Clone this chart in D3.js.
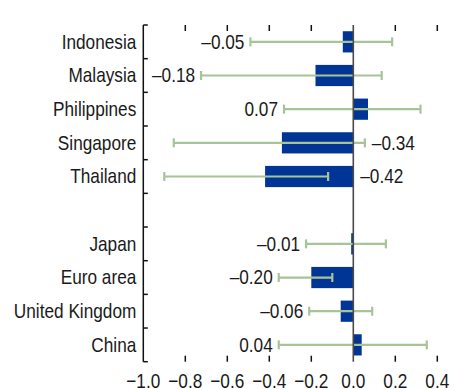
<!DOCTYPE html>
<html><head><meta charset="utf-8">
<script src="https://cdn.jsdelivr.net/npm/d3@7"></script>
<style>
html,body{margin:0;padding:0;background:#fff;}
text{font-family:"Liberation Sans",Arial,sans-serif;fill:#1a1a1a;}
</style></head>
<body><svg id="c" width="455" height="389"></svg>
<script>
const categories = ["Indonesia","Malaysia","Philippines","Singapore","Thailand","","Japan","Euro area","United Kingdom","China"];
const values     = [-0.05, -0.18, 0.07, -0.34, -0.42, null, -0.01, -0.20, -0.06, 0.04];
const errLow     = [-0.49, -0.725, -0.33, -0.855, -0.90, null, -0.225, -0.355, -0.21, -0.355];
const errHigh    = [0.185, 0.135, 0.32, 0.055, -0.12, null, 0.155, -0.10, 0.09, 0.35];
const labelSide  = ["left","left","left","right","right",null,"left","left","left","left"];
const valueLabels= ["\u20130.05","\u20130.18","0.07","\u20130.34","\u20130.42","","\u20130.01","\u20130.20","\u20130.06","0.04"];
const xTicks     = [-1.0,-0.8,-0.6,-0.4,-0.2,0.0,0.2,0.4];

const svg = d3.select("#c");
const fs = 21, sx = 0.82;
const keys = categories.map((c,i)=> c===""? "__gap"+i : c);
const x = d3.scaleLinear().domain([-1.0,0.4]).range([143.3,437.3]);
const y = d3.scaleBand().domain(keys).range([25,361.7]).paddingInner(0.37).paddingOuter(0.185);

const rows = keys.map((k,i)=>({k, name:categories[i], v:values[i], lo:errLow[i], hi:errHigh[i], side:labelSide[i], lab:valueLabels[i]}));
const data = rows.filter(d=>d.v!==null);
const cy = d => y(d.k)+y.bandwidth()/2;
const place = (fx, fy) => d => `translate(${fx(d)},${fy(d)}) scale(${sx},1)`;

// bars
svg.append("g").selectAll("rect").data(data).join("rect")
  .attr("x", d=>Math.min(x(d.v),x(0)))
  .attr("width", d=>Math.abs(x(d.v)-x(0)))
  .attr("y", d=>y(d.k)).attr("height", y.bandwidth())
  .attr("fill","#003595");

// error bars
const eb = svg.append("g").attr("stroke","#a6c497").attr("stroke-width",2.2).attr("fill","none");
data.forEach(d=>{
  const c = cy(d);
  eb.append("line").attr("x1",x(d.lo)).attr("x2",x(d.hi)).attr("y1",c).attr("y2",c);
  [d.lo,d.hi].forEach(v=>eb.append("line").attr("x1",x(v)).attr("x2",x(v)).attr("y1",c-4.5).attr("y2",c+4.5));
});

// zero line
svg.append("line").attr("x1",x(0)).attr("x2",x(0)).attr("y1",y.range()[0]).attr("y2",y.range()[1])
  .attr("stroke","#4a4a4a").attr("stroke-width",1.6);

// left axis bracket
const la = svg.append("g").attr("stroke","#111").attr("stroke-width",1.5);
la.append("line").attr("x1",x(-1)).attr("x2",x(-1)).attr("y1",y.range()[0]).attr("y2",y.range()[1]);
d3.range(keys.length+1).forEach(i=>{
  const yy = y.range()[0]+i*y.step();
  la.append("line").attr("x1",x(-1)).attr("x2",x(-1)+4.5).attr("y1",yy).attr("y2",yy);
});

// category labels
svg.append("g").selectAll("text").data(rows).join("text")
  .attr("transform", place(()=>x(-1)-7, cy)).attr("dy","0.33em")
  .attr("text-anchor","end").attr("font-size",fs).text(d=>d.name);

// top and bottom ticks
const tk = svg.append("g").attr("stroke","#111").attr("stroke-width",1.5);
xTicks.filter(t=>t>-1 && t!==0).forEach(t=>{
  tk.append("line").attr("x1",x(t)).attr("x2",x(t)).attr("y1",y.range()[0]).attr("y2",y.range()[0]+6);
  tk.append("line").attr("x1",x(t)).attr("x2",x(t)).attr("y1",y.range()[1]-6).attr("y2",y.range()[1]);
});
svg.append("g").selectAll("text").data(xTicks).join("text")
  .attr("transform", place(d=>x(d), ()=>388)).attr("text-anchor","middle").attr("font-size",fs)
  .text(d=> (d<0?"\u2212":"")+Math.abs(d).toFixed(1));

// value labels
svg.append("g").selectAll("text").data(data).join("text")
  .attr("transform", place(d=> d.side==="left" ? x(d.lo)-6 : Math.max(x(d.hi),x(0))+7, cy))
  .attr("text-anchor", d=> d.side==="left" ? "end" : "start")
  .attr("dy","0.33em")
  .attr("font-size",fs).text(d=>d.lab);
</script></body></html>
